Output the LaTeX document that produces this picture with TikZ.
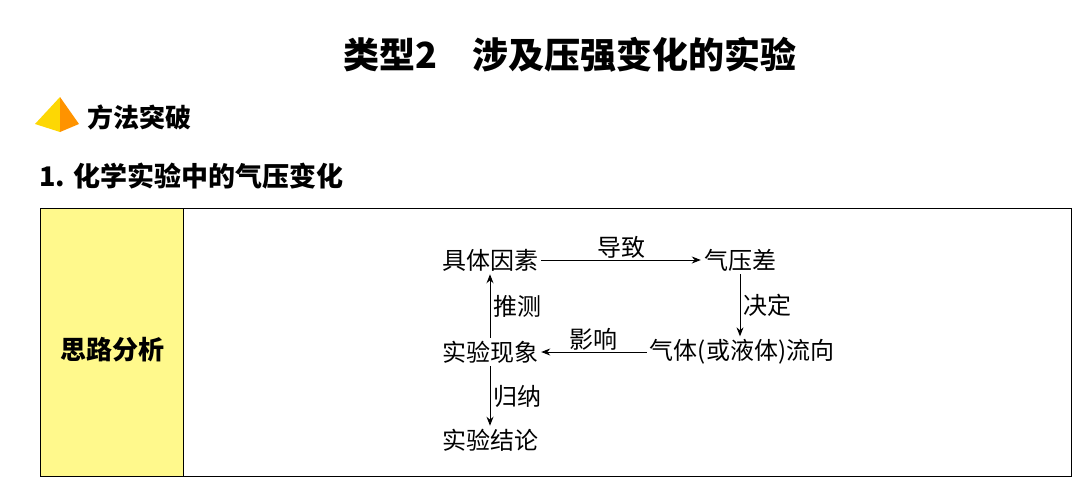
\documentclass[tikz,border=0pt]{standalone}
\usepackage{fontspec}
\setmainfont{Noto Sans CJK SC}
\usetikzlibrary{arrows.meta}
\begin{document}
\begin{tikzpicture}[x=1pt,y=-1pt,
  lbl/.style={font=\fontsize{24}{26}\selectfont, inner sep=3pt},
  arr/.style={-{Stealth[length=9pt,width=7pt]}, line width=1pt}]
\useasboundingbox (0,0) rectangle (1080,501);
\node[font=\fontsize{36}{38}\selectfont\bfseries] (title) at (570,55) {类型2\quad 涉及压强变化的实验};
\fill[yellow!75!orange] (60,97) -- (35,124) -- (60,132) -- cycle;
\fill[orange!85!yellow] (60,97) -- (60,132) -- (79,124) -- cycle;
\node[anchor=west, font=\fontsize{26}{28}\selectfont\bfseries] (m) at (84,117) {方法突破};
\node[anchor=west, font=\fontsize{27}{29}\selectfont\bfseries] (h) at (36,176) {1. 化学实验中的气压变化};
\fill[yellow!45] (40,208) rectangle (183,476);
\draw[line width=0.8pt] (40,208) rectangle (1071,476);
\draw[line width=0.8pt] (183,208) -- (183,476);
\node[font=\fontsize{26}{28}\selectfont\bfseries] (s) at (112,350) {思路分析};
\node[lbl] (a) at (490,260) {具体因素};
\node[lbl] (b) at (740,260) {气压差};
\node[lbl] (c) at (490,352) {实验现象};
\node[lbl] (d) at (742,352) {气体(或液体)流向};
\node[lbl] (e) at (490,440) {实验结论};
\draw[arr] (a) -- node[lbl, above=-2pt] {导致} (b);
\draw[arr] (b) -- node[lbl, right] {决定} (b|-d.north);
\draw[arr] (d) -- node[lbl, above=-2pt] {影响} (c);
\draw[arr] (c) -- node[lbl, right] {推测} (a);
\draw[arr] (c) -- node[lbl, right] {归纳} (e);
\end{tikzpicture}
\end{document}
